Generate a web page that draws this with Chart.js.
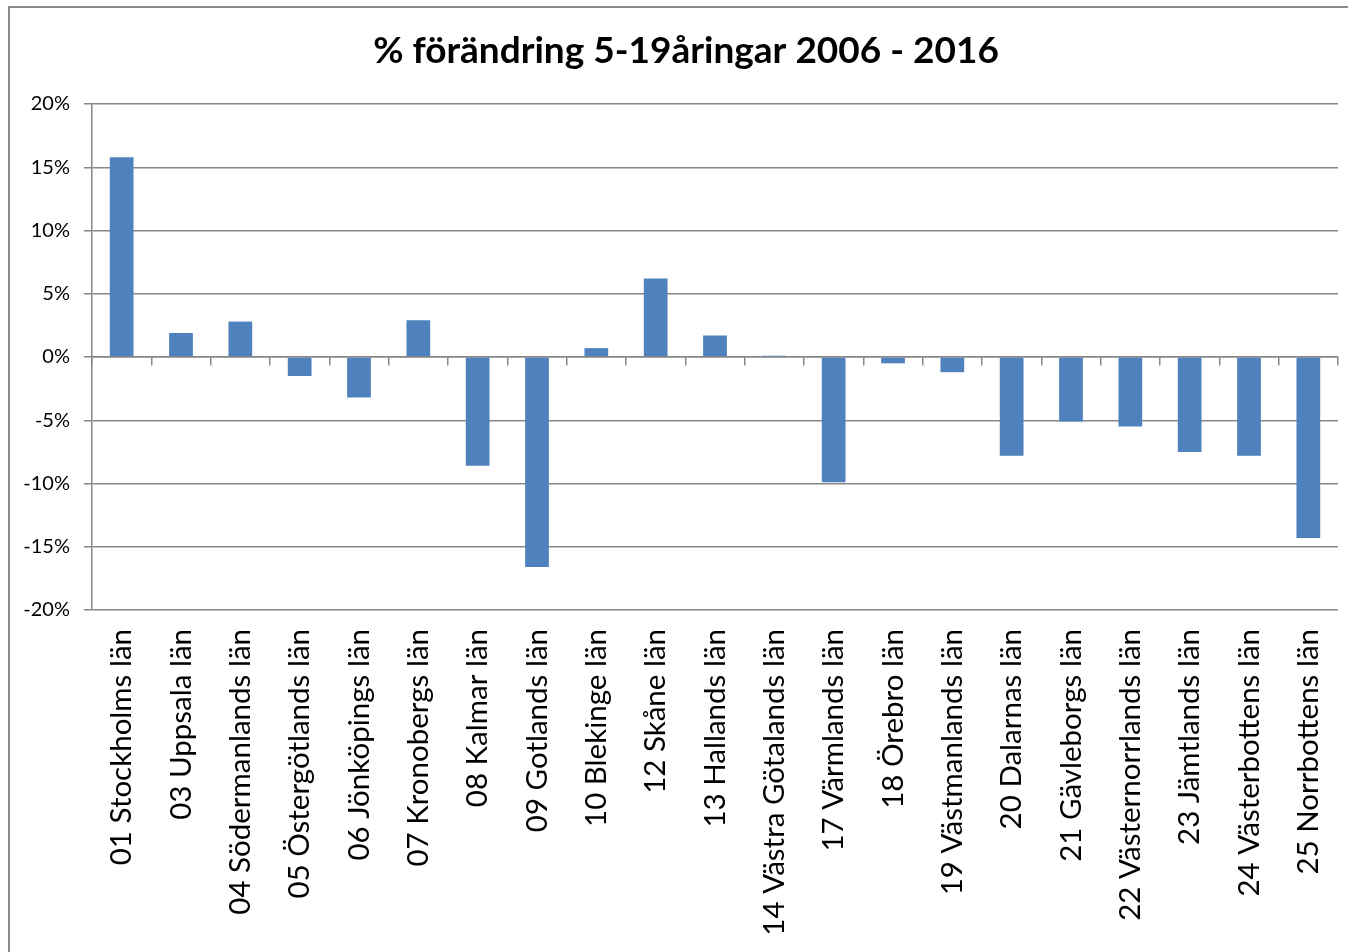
<!DOCTYPE html>
<html>
<head>
<meta charset="utf-8">
<script src="https://cdn.jsdelivr.net/npm/chart.js@4/dist/chart.umd.min.js"></script>
<style>
  html, body { margin: 0; padding: 0; background: #fff; overflow: hidden; }
  #wrap { position: relative; width: 1348px; height: 952px; }
  #frame {
    position: absolute; left: 8px; top: 6px; width: 1400px; height: 1000px;
    border-left: 2px solid #8a8a8a; border-top: 2px solid #8a8a8a;
  }
  canvas { position: absolute; left: 0; top: 0; }
</style>
</head>
<body>
<div id="wrap">
  <div id="frame"></div>
  <canvas id="chart" width="1348" height="952"></canvas>
</div>
<script>
// Län (categories)
const lanLabels = [
  "01 Stockholms län", "03 Uppsala län", "04 Södermanlands län", "05 Östergötlands län",
  "06 Jönköpings län", "07 Kronobergs län", "08 Kalmar län", "09 Gotlands län",
  "10 Blekinge län", "12 Skåne län", "13 Hallands län", "14 Västra Götalands län",
  "17 Värmlands län", "18 Örebro län", "19 Västmanlands län", "20 Dalarnas län",
  "21 Gävleborgs län", "22 Västernorrlands län", "23 Jämtlands län",
  "24 Västerbottens län", "25 Norrbottens län"
];

// % change 5-19 year olds 2006 - 2016
const changeValues = [
  0.158, 0.019, 0.028, -0.015, -0.032, 0.029, -0.086, -0.166, 0.007, 0.062, 0.017,
  0.001, -0.099, -0.005, -0.012, -0.078, -0.051, -0.055, -0.075, -0.078, -0.143
];

const titleText = "% förändring 5-19åringar 2006 - 2016";
const yMin = -0.2;
const yMax = 0.2;
const yStep = 0.05;

const gridGray = "#868686";
const barBlue = "#4F81BD";

// Title drawn by hand so it can sit a bit right of the canvas centre, like the original
const titlePlugin = {
  id: "titleText",
  afterDraw(chart) {
    const c = chart.ctx;
    c.save();
    c.font = "bold 37px Lato";
    c.fillStyle = "#000";
    c.textAlign = "center";
    c.textBaseline = "middle";
    c.fillText(titleText, 686, 51);
    c.restore();
  }
};

const ctx = document.getElementById("chart").getContext("2d");
new Chart(ctx, {
  type: "bar",
  data: {
    labels: lanLabels,
    datasets: [{
      data: changeValues,
      backgroundColor: barBlue,
      borderWidth: 0,
      categoryPercentage: 1,
      barPercentage: 0.4
    }]
  },
  options: {
    responsive: false,
    animation: false,
    layout: { padding: { left: 0, right: 10, top: 104, bottom: 0 } },
    plugins: {
      legend: { display: false },
      tooltip: { enabled: false },
      title: { display: false }
    },
    scales: {
      x: {
        position: "bottom",
        offset: true,
        grid: { display: false },
        border: { display: false },
        ticks: {
          autoSkip: false,
          minRotation: 90,
          maxRotation: 90,
          padding: 11,
          color: "#000",
          font: { family: "Lato", size: 29.5 }
        },
        afterFit: (scale) => {
          scale.height = 342;
          scale.paddingLeft = 0;
          scale.paddingRight = 0;
        }
      },
      // tick marks sitting on the zero line
      x2: {
        position: { y: 0 },
        offset: true,
        grid: {
          offset: true,
          drawOnChartArea: false,
          drawTicks: true,
          tickLength: 8,
          color: gridGray,
          lineWidth: 1.5
        },
        border: { display: true, color: gridGray, width: 1.5 },
        ticks: { display: false, autoSkip: false },
        afterFit: (scale) => {
          scale.paddingLeft = 0;
          scale.paddingRight = 0;
        }
      },
      y: {
        min: yMin,
        max: yMax,
        ticks: {
          stepSize: yStep,
          padding: 14,
          color: "#000",
          font: { family: "Lato", size: 20 },
          callback: (v) => Math.round(v * 100) + "%"
        },
        grid: { color: gridGray, lineWidth: 1.5, tickLength: 8 },
        border: { color: gridGray, width: 1.5 },
        afterFit: (scale) => {
          scale.width = 92;
          scale.paddingTop = 0;
          scale.paddingBottom = 0;
        }
      }
    }
  },
  plugins: [titlePlugin]
});
</script>
</body>
</html>
